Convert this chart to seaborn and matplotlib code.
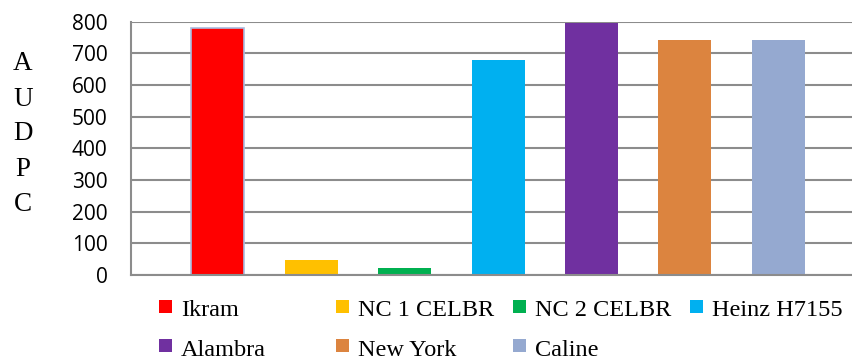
import matplotlib
matplotlib.use("Agg")
import matplotlib.pyplot as plt
from matplotlib.patches import Rectangle
import seaborn as sns
import pandas as pd

# AUDPC per tomato variety
varieties = ["Ikram", "NC 1 CELBR", "NC 2 CELBR", "Heinz H7155",
             "Alambra", "New York", "Caline"]
audpc = [780, 47, 22, 678, 797, 742, 742]
colors = ["#ff0000", "#ffc000", "#00b050", "#00b0f0",
          "#7030a0", "#dc843f", "#95a9d0"]
y_ticks = [0, 100, 200, 300, 400, 500, 600, 700, 800]

df = pd.DataFrame({"variety": varieties, "audpc": audpc})

sns.set_theme(style="white")
W, H = 853, 361
fig = plt.figure(figsize=(W / 100, H / 100), dpi=100)
ax = fig.add_axes([131 / W, 1 - 275 / H, 1 - 131 / W, (275 - 21.6) / H])

sns.barplot(data=df, x="variety", y="audpc", hue="variety",
            palette=dict(zip(varieties, colors)), order=varieties,
            hue_order=varieties, width=0.567, legend=False,
            saturation=1, ax=ax, linewidth=0)

# light outline on the first bar
ax.patches[0].set_edgecolor("#a8bce0")
ax.patches[0].set_linewidth(1.2)

ax.set_xlim(-0.931, 6.80)
ax.set_ylim(0, 800)
ax.set_yticks(y_ticks)
ax.set_yticklabels([str(t) for t in y_ticks], fontfamily="Open Sans",
                   fontsize=15, color="#000000")
ax.tick_params(axis="y", length=0, pad=17)
ax.set_xticks([])
ax.set_xlabel("")
ax.set_ylabel("")
ax.yaxis.grid(True, color="#8c8c8c", linewidth=1.5)
ax.set_axisbelow(True)
for side in ["top", "right"]:
    ax.spines[side].set_visible(False)
for side in ["left", "bottom"]:
    ax.spines[side].set_color("#8c8c8c")
    ax.spines[side].set_linewidth(1.5)

# stacked y-axis title
for i, ch in enumerate("AUDPC"):
    fig.text(23 / W, 1 - (64 + 35 * i) / H, ch, ha="center", va="center",
             fontfamily="Liberation Serif", fontsize=19.5, color="#000000")

# legend entries in a 4-column grid
for i, (name, col) in enumerate(zip(varieties, colors)):
    r, c = divmod(i, 4)
    mx = 159 + 177 * c
    my = 306 + 39 * r
    fig.patches.append(Rectangle((mx / W, 1 - (my + 6.5) / H), 13 / W, 13 / H,
                                 transform=fig.transFigure, facecolor=col,
                                 edgecolor="none"))
    fig.text((mx + 22) / W, 1 - (my + 10.5) / H, name, ha="left",
             va="baseline", fontfamily="Liberation Serif", fontsize=17.5,
             color="#000000")

fig.savefig("out.png", dpi=100)
